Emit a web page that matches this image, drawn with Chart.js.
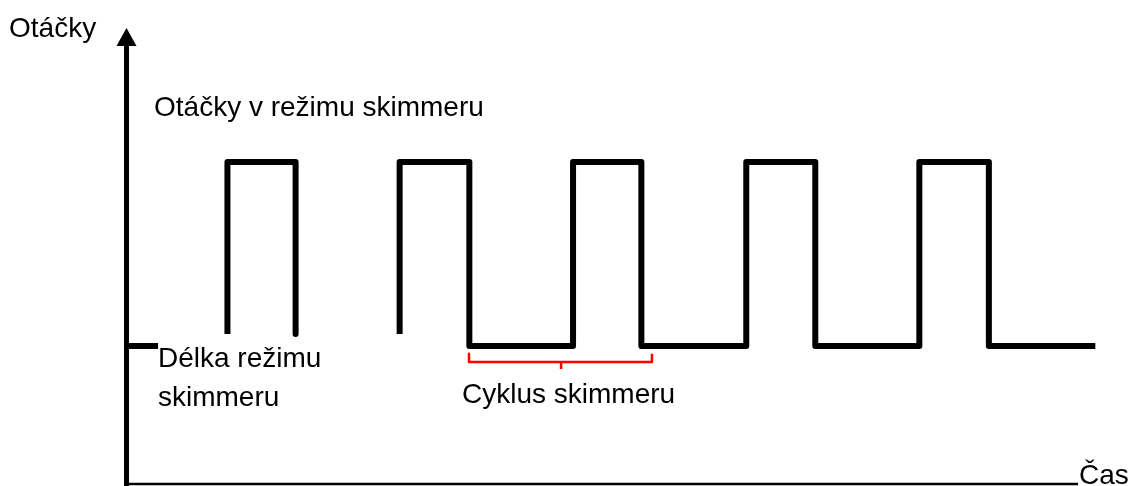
<!DOCTYPE html>
<html>
<head>
<meta charset="utf-8">
<script src="https://cdn.jsdelivr.net/npm/chart.js@4.4.1/dist/chart.umd.min.js"></script>
<style>
  html, body { margin: 0; padding: 0; background: #ffffff; }
  #wrap { width: 1131px; height: 486px; position: relative; }
</style>
</head>
<body>
<div id="wrap"><canvas id="c" width="1131" height="486"></canvas></div>
<script>
// ---- Data (time units vs. pump speed in % ) ----
// Square wave: null marks a break in the line
const waveTime  = [0, 1.85, null, 5.85, 5.85, 9.78, 9.78, null, 15.78, 15.78, 19.8, 19.8, 25.78, 25.78, 29.72, 29.72, 35.77, 35.77, 39.75, 39.75, 45.75, 45.75, 49.76, 49.76, 55.9];
const waveSpeed = [30, 30, null, 32.6, 70, 70, 32.6, null, 32.6, 70, 70, 30, 30, 70, 70, 30, 30, 70, 70, 30, 30, 70, 70, 30, 30];
// Red brace marking one skimmer cycle
const braceTime  = [19.78, 19.78, 30.33, 30.33];
const braceSpeed = [28.3, 26.5, 26.5, 28.3];
const braceTickTime  = [25.09, 25.09];
const braceTickSpeed = [26.5, 25.0];
// Axis ranges
const timeRange  = [0, 54.9];
const speedRange = [0, 100];
// Texts
const yAxisTitle = 'Otáčky';
const xAxisTitle = 'Čas';
const highLabel = 'Otáčky v režimu skimmeru';
const durationLabel = ['Délka režimu', 'skimmeru'];
const cycleLabel = 'Cyklus skimmeru';

function toPoints(xs, ys) {
  return xs.map((x, i) => (x === null || ys[i] === null) ? { x: NaN, y: null } : { x: x, y: ys[i] });
}

const FONT = '28px "Liberation Sans", Arial, sans-serif';

const decorPlugin = {
  id: 'decor',
  beforeDatasetsDraw(chart) {
    const ctx = chart.ctx;
    const a = chart.chartArea;
    const xs = chart.scales.x, ys = chart.scales.y;
    const x0 = xs.getPixelForValue(timeRange[0]) + 0.5;
    const yb = ys.getPixelForValue(speedRange[0]);
    ctx.save();
    ctx.fillStyle = '#000';
    ctx.strokeStyle = '#000';
    // y axis
    ctx.lineWidth = 5;
    ctx.beginPath();
    ctx.moveTo(x0, 44);
    ctx.lineTo(x0, 486);
    ctx.stroke();
    // arrow head
    ctx.beginPath();
    ctx.moveTo(x0, 28);
    ctx.lineTo(x0 - 10, 46);
    ctx.lineTo(x0 + 10, 46);
    ctx.closePath();
    ctx.fill();
    // x axis
    ctx.lineWidth = 2.5;
    ctx.beginPath();
    ctx.moveTo(x0, yb);
    ctx.lineTo(a.right, yb);
    ctx.stroke();
    ctx.restore();
  },
  afterDraw(chart) {
    const ctx = chart.ctx;
    ctx.save();
    ctx.fillStyle = '#000';
    ctx.font = FONT;
    ctx.textBaseline = 'alphabetic';
    ctx.textAlign = 'left';
    ctx.fillText(yAxisTitle, 9, 37);
    ctx.fillText(highLabel, 154, 116);
    ctx.fillText(durationLabel[0], 158, 367);
    ctx.fillText(durationLabel[1], 158, 406);
    ctx.fillText(cycleLabel, 462, 403);
    ctx.fillText(xAxisTitle, 1079, 484);
    ctx.restore();
  }
};

new Chart(document.getElementById('c'), {
  type: 'line',
  data: {
    datasets: [
      {
        data: toPoints(waveTime, waveSpeed),
        borderColor: '#000000',
        borderWidth: 6,
        borderJoinStyle: 'round',
        borderCapStyle: 'butt',
        pointRadius: 0,
        spanGaps: false,
        clip: false,
        tension: 0
      },
      {
        data: toPoints(braceTime, braceSpeed),
        borderColor: '#ff0000',
        borderWidth: 2.5,
        borderJoinStyle: 'round',
        pointRadius: 0,
        clip: false,
        tension: 0
      },
      {
        data: toPoints(braceTickTime, braceTickSpeed),
        borderColor: '#ff0000',
        borderWidth: 2.5,
        pointRadius: 0,
        clip: false,
        tension: 0
      }
    ]
  },
  options: {
    responsive: false,
    animation: false,
    devicePixelRatio: 1,
    layout: { padding: { left: 126, right: 53, top: 24, bottom: 2 } },
    plugins: { legend: { display: false }, tooltip: { enabled: false } },
    scales: {
      x: { type: 'linear', min: timeRange[0], max: timeRange[1], display: false },
      y: { type: 'linear', min: speedRange[0], max: speedRange[1], display: false }
    }
  },
  plugins: [decorPlugin]
});
</script>
</body>
</html>
